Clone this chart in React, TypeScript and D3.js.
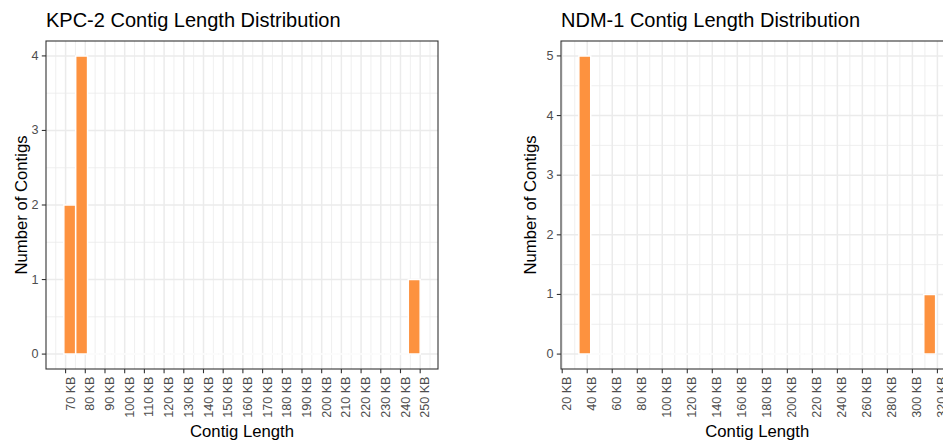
import React from "react";
import * as d3 from "d3";

// ---------- data ----------
const kpcTitle = "KPC-2 Contig Length Distribution";
const kpcBinMinKB = 69.1;
const kpcBinWidthKB = 6.03;
const kpcCounts = [2, 4, 0, 0, 0, 0, 0, 0, 0, 0, 0, 0, 0, 0, 0, 0, 0, 0, 0, 0, 0, 0, 0, 0, 0, 0, 0, 0, 0, 1];
const kpcXTicks = [70, 80, 90, 100, 110, 120, 130, 140, 150, 160, 170, 180, 190, 200, 210, 220, 230, 240, 250];
const kpcYTicks = [0, 1, 2, 3, 4];

const ndmTitle = "NDM-1 Contig Length Distribution";
const ndmBinMinKB = 33.3;
const ndmBinWidthKB = 9.51;
const ndmCounts = [5, 0, 0, 0, 0, 0, 0, 0, 0, 0, 0, 0, 0, 0, 0, 0, 0, 0, 0, 0, 0, 0, 0, 0, 0, 0, 0, 0, 0, 1];
const ndmXTicks = [20, 40, 60, 80, 100, 120, 140, 160, 180, 200, 220, 240, 260, 280, 300, 320];
const ndmYTicks = [0, 1, 2, 3, 4, 5];

const xTitle = "Contig Length";
const yTitle = "Number of Contigs";

// ---------- style ----------
const FONT = "'Liberation Sans', Arial, Helvetica, sans-serif";
const BAR_FILL = "#FD923F";
const GRID = "#EBEBEB";
const BORDER = "#333333";
const TICK_TXT = "#4D4D4D";
const TICK_FS = 12.6;

type PanelProps = {
  title: string;
  counts: number[];
  binMin: number;
  binWidth: number;
  xTicks: number[];
  yTicks: number[];
  left: number;
  right: number;
  yTitleX: number;
};

const TOP = 41;
const BOTTOM = 369;

function Panel({ title, counts, binMin, binWidth, xTicks, yTicks, left, right, yTitleX }: PanelProps) {
  const edges = counts.map((_, i) => binMin + i * binWidth);
  const binMax = binMin + counts.length * binWidth;
  const span = binMax - binMin;
  const x = d3.scaleLinear().domain([binMin - 0.05 * span, binMax + 0.05 * span]).range([left, right]);
  const maxC = d3.max(counts) as number;
  const y = d3.scaleLinear().domain([-0.05 * maxC, maxC * 1.05]).range([BOTTOM, TOP]);

  const step = xTicks[1] - xTicks[0];
  const [dx0, dx1] = x.domain();
  const xMinor: number[] = [];
  for (let v = xTicks[0] - step / 2; v <= dx1; v += step) if (v >= dx0) xMinor.push(v);
  const yMinor: number[] = [];
  for (let v = -0.5; v <= maxC * 1.05; v += 1) if (v >= -0.05 * maxC) yMinor.push(v);

  const midX = (left + right) / 2;
  const midY = (TOP + BOTTOM) / 2;

  return (
    <g>
      <text x={left} y={27} fontSize={20} fill="#000" fontFamily={FONT}>{title}</text>
      <rect x={left} y={TOP} width={right - left} height={BOTTOM - TOP} fill="#fff" />
      {xMinor.map((v, i) => (
        <line key={"xm" + i} x1={x(v)} x2={x(v)} y1={TOP} y2={BOTTOM} stroke={GRID} strokeWidth={0.8} />
      ))}
      {yMinor.map((v, i) => (
        <line key={"ym" + i} x1={left} x2={right} y1={y(v)} y2={y(v)} stroke={GRID} strokeWidth={0.8} />
      ))}
      {xTicks.map((v, i) => (
        <line key={"xg" + i} x1={x(v)} x2={x(v)} y1={TOP} y2={BOTTOM} stroke={GRID} strokeWidth={1.5} />
      ))}
      {yTicks.map((v, i) => (
        <line key={"yg" + i} x1={left} x2={right} y1={y(v)} y2={y(v)} stroke={GRID} strokeWidth={1.5} />
      ))}
      {counts.map((c, i) => {
        const x0 = x(edges[i]);
        const x1 = x(edges[i] + binWidth);
        const y0 = y(0);
        const y1 = y(c);
        const p = d3.path();
        p.moveTo(x0, y0);
        p.lineTo(x1, y0);
        p.lineTo(x1, y1);
        p.lineTo(x0, y1);
        p.closePath();
        return <path key={"b" + i} d={p.toString()} fill={BAR_FILL} stroke="#fff" strokeWidth={1.5} />;
      })}
      <rect x={left} y={TOP} width={right - left} height={BOTTOM - TOP} fill="none" stroke={BORDER} strokeWidth={1.1} />
      {yTicks.map((v, i) => (
        <g key={"yt" + i}>
          <line x1={left - 4.2} x2={left} y1={y(v)} y2={y(v)} stroke={BORDER} strokeWidth={1.1} />
          <text x={left - 7.5} y={y(v)} textAnchor="end" dominantBaseline="central" fontSize={TICK_FS} fill={TICK_TXT} fontFamily={FONT}>
            {v}
          </text>
        </g>
      ))}
      {xTicks.map((v, i) => (
        <g key={"xt" + i}>
          <line x1={x(v)} x2={x(v)} y1={BOTTOM} y2={BOTTOM + 4.2} stroke={BORDER} strokeWidth={1.1} />
          <text
            transform={`translate(${x(v)},${BOTTOM + 7.5}) rotate(-90)`}
            textAnchor="end"
            dy="0.72em"
            fontSize={TICK_FS}
            fill={TICK_TXT}
            fontFamily={FONT}
          >
            {v + " KB"}
          </text>
        </g>
      ))}
      <text x={midX} y={437} textAnchor="middle" fontSize={16.7} fill="#000" fontFamily={FONT}>{xTitle}</text>
      <text transform={`translate(${yTitleX},${midY}) rotate(-90)`} textAnchor="middle" fontSize={16.7} fill="#000" fontFamily={FONT}>
        {yTitle}
      </text>
    </g>
  );
}

export default function App() {
  return (
    <svg
      width={943}
      height={441}
      viewBox="0 0 943 441"
      style={{ position: "absolute", left: 0, top: 0, display: "block", background: "#fff" }}
    >
      <rect x={0} y={0} width={943} height={441} fill="#fff" />
      <Panel
        title={kpcTitle}
        counts={kpcCounts}
        binMin={kpcBinMinKB}
        binWidth={kpcBinWidthKB}
        xTicks={kpcXTicks}
        yTicks={kpcYTicks}
        left={46}
        right={438}
        yTitleX={26.5}
      />
      <Panel
        title={ndmTitle}
        counts={ndmCounts}
        binMin={ndmBinMinKB}
        binWidth={ndmBinWidthKB}
        xTicks={ndmXTicks}
        yTicks={ndmYTicks}
        left={561}
        right={953.5}
        yTitleX={536}
      />
    </svg>
  );
}
